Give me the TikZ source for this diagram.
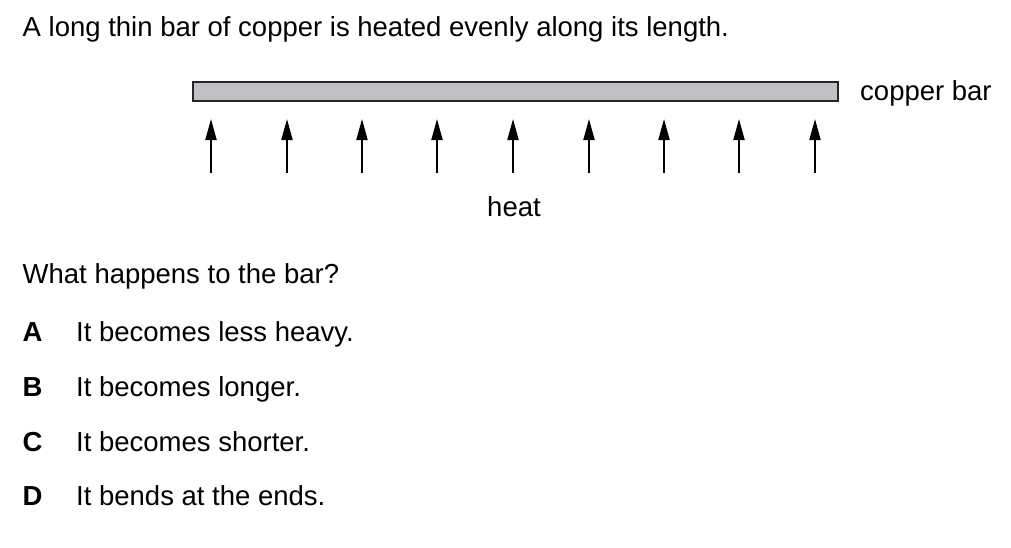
\documentclass[tikz,border=0pt]{standalone}
\usepackage{fontspec}
\setmainfont{Liberation Sans}
\usetikzlibrary{arrows.meta}
\begin{document}
\begin{tikzpicture}[x=1pt,y=-1pt,
  txt/.style={anchor=base west,inner sep=0pt,font=\fontsize{27.5}{33}\selectfont},
  lbl/.style={anchor=base west,inner sep=0pt,font=\fontsize{27.5}{33}\selectfont\bfseries},
  heatarrow/.style={line width=2pt,-{Triangle[length=21pt,width=11pt]}},
  barbox/.style={draw=black!85,line width=2pt,fill=barfill}]
\definecolor{barfill}{RGB}{192,193,197}
\useasboundingbox (0,0) rectangle (1011,547);
\node[txt] (title) at (22.5,36) {A long thin bar of copper is heated evenly along its length.};
\draw[barbox] (193,82) rectangle (838,101);
\node[inner sep=0pt] (bar) at (515.5,91.5) {};
\node[txt] (cb) at (860,100) {copper bar};
\foreach \i/\x in {1/211,2/287,3/362,4/437,5/513,6/589,7/664,8/739,9/815}{
  \coordinate (s\i) at (\x,173);
  \coordinate (t\i) at (\x,119);
  \draw[heatarrow] (s\i) -- (t\i);
}
\node[txt,anchor=base] (heat) at (514,216) {heat};
\node[txt] (q) at (22.5,283) {What happens to the bar?};
\node[lbl] (la) at (22.5,341) {A};
\node[txt] (oa) at (76,341) {It becomes less heavy.};
\node[lbl] (lb) at (22.5,396) {B};
\node[txt] (ob) at (76,396) {It becomes longer.};
\node[lbl] (lc) at (22.5,451) {C};
\node[txt] (oc) at (76,451) {It becomes shorter.};
\node[lbl] (ld) at (22.5,505) {D};
\node[txt] (od) at (76,505) {It bends at the ends.};
\end{tikzpicture}
\end{document}
